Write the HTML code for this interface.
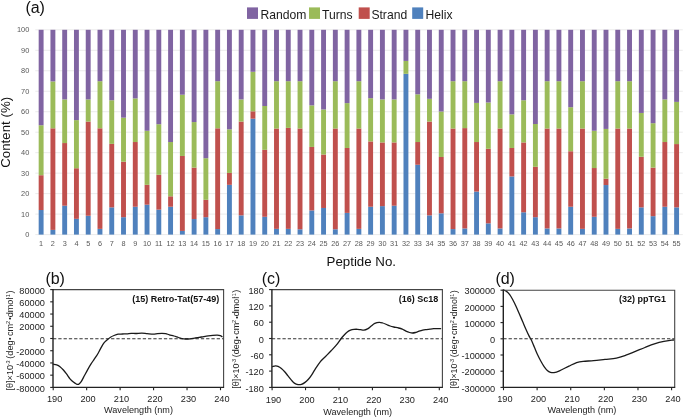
<!DOCTYPE html><html><head><meta charset="utf-8"><style>
html,body{margin:0;padding:0;background:#fff;}
svg{display:block;will-change:transform;font-family:"Liberation Sans",sans-serif;}
</style></head><body>
<svg width="685" height="419" viewBox="0 0 685 419">
<rect width="685" height="419" fill="#fff"/>
<text x="25.4" y="13.2" font-size="16" fill="#111">(a)</text>
<rect x="247" y="7.4" width="11" height="11.5" fill="#8064A2"/>
<text x="260.6" y="18.8" font-size="12.15" fill="#1a1a1a">Random</text>
<rect x="309" y="7.4" width="11" height="11.5" fill="#9BBB59"/>
<text x="322" y="18.8" font-size="12.15" fill="#1a1a1a">Turns</text>
<rect x="358.7" y="7.4" width="11" height="11.5" fill="#C0504D"/>
<text x="371.4" y="18.8" font-size="12.15" fill="#1a1a1a">Strand</text>
<rect x="412.2" y="7.4" width="11" height="11.5" fill="#4F81BD"/>
<text x="425.6" y="18.8" font-size="12.15" fill="#1a1a1a">Helix</text>
<line x1="35.3" x2="682.8" y1="234.60" y2="234.60" stroke="#ebebeb" stroke-width="1"/>
<line x1="35.3" x2="682.8" y1="214.12" y2="214.12" stroke="#ebebeb" stroke-width="1"/>
<line x1="35.3" x2="682.8" y1="193.64" y2="193.64" stroke="#ebebeb" stroke-width="1"/>
<line x1="35.3" x2="682.8" y1="173.16" y2="173.16" stroke="#ebebeb" stroke-width="1"/>
<line x1="35.3" x2="682.8" y1="152.68" y2="152.68" stroke="#ebebeb" stroke-width="1"/>
<line x1="35.3" x2="682.8" y1="132.20" y2="132.20" stroke="#ebebeb" stroke-width="1"/>
<line x1="35.3" x2="682.8" y1="111.72" y2="111.72" stroke="#ebebeb" stroke-width="1"/>
<line x1="35.3" x2="682.8" y1="91.24" y2="91.24" stroke="#ebebeb" stroke-width="1"/>
<line x1="35.3" x2="682.8" y1="70.76" y2="70.76" stroke="#ebebeb" stroke-width="1"/>
<line x1="35.3" x2="682.8" y1="50.28" y2="50.28" stroke="#ebebeb" stroke-width="1"/>
<line x1="35.3" x2="682.8" y1="29.80" y2="29.80" stroke="#ebebeb" stroke-width="1"/>
<text x="29.3" y="237.25" font-size="7.4" fill="#595959" text-anchor="end">0</text>
<text x="29.3" y="216.77" font-size="7.4" fill="#595959" text-anchor="end">10</text>
<text x="29.3" y="196.29" font-size="7.4" fill="#595959" text-anchor="end">20</text>
<text x="29.3" y="175.81" font-size="7.4" fill="#595959" text-anchor="end">30</text>
<text x="29.3" y="155.33" font-size="7.4" fill="#595959" text-anchor="end">40</text>
<text x="29.3" y="134.85" font-size="7.4" fill="#595959" text-anchor="end">50</text>
<text x="29.3" y="114.37" font-size="7.4" fill="#595959" text-anchor="end">60</text>
<text x="29.3" y="93.89" font-size="7.4" fill="#595959" text-anchor="end">70</text>
<text x="29.3" y="73.41" font-size="7.4" fill="#595959" text-anchor="end">80</text>
<text x="29.3" y="52.93" font-size="7.4" fill="#595959" text-anchor="end">90</text>
<text x="29.3" y="32.45" font-size="7.4" fill="#595959" text-anchor="end">100</text>
<rect x="38.68" y="210.02" width="4.9" height="24.58" fill="#4F81BD"/>
<rect x="38.68" y="175.21" width="4.9" height="34.82" fill="#C0504D"/>
<rect x="38.68" y="125.24" width="4.9" height="49.97" fill="#9BBB59"/>
<rect x="38.68" y="29.80" width="4.9" height="95.44" fill="#8064A2"/>
<text x="41.13" y="245.8" font-size="7.3" fill="#595959" text-anchor="middle">1</text>
<rect x="50.45" y="229.89" width="4.9" height="4.71" fill="#4F81BD"/>
<rect x="50.45" y="128.31" width="4.9" height="101.58" fill="#C0504D"/>
<rect x="50.45" y="81.41" width="4.9" height="46.90" fill="#9BBB59"/>
<rect x="50.45" y="29.80" width="4.9" height="51.61" fill="#8064A2"/>
<text x="52.90" y="245.8" font-size="7.3" fill="#595959" text-anchor="middle">2</text>
<rect x="62.22" y="205.72" width="4.9" height="28.88" fill="#4F81BD"/>
<rect x="62.22" y="143.05" width="4.9" height="62.67" fill="#C0504D"/>
<rect x="62.22" y="99.43" width="4.9" height="43.62" fill="#9BBB59"/>
<rect x="62.22" y="29.80" width="4.9" height="69.63" fill="#8064A2"/>
<text x="64.67" y="245.8" font-size="7.3" fill="#595959" text-anchor="middle">3</text>
<rect x="73.98" y="218.83" width="4.9" height="15.77" fill="#4F81BD"/>
<rect x="73.98" y="168.24" width="4.9" height="50.59" fill="#C0504D"/>
<rect x="73.98" y="120.12" width="4.9" height="48.13" fill="#9BBB59"/>
<rect x="73.98" y="29.80" width="4.9" height="90.32" fill="#8064A2"/>
<text x="76.43" y="245.8" font-size="7.3" fill="#595959" text-anchor="middle">4</text>
<rect x="85.75" y="215.76" width="4.9" height="18.84" fill="#4F81BD"/>
<rect x="85.75" y="121.55" width="4.9" height="94.21" fill="#C0504D"/>
<rect x="85.75" y="99.43" width="4.9" height="22.12" fill="#9BBB59"/>
<rect x="85.75" y="29.80" width="4.9" height="69.63" fill="#8064A2"/>
<text x="88.20" y="245.8" font-size="7.3" fill="#595959" text-anchor="middle">5</text>
<rect x="97.52" y="228.87" width="4.9" height="5.73" fill="#4F81BD"/>
<rect x="97.52" y="128.31" width="4.9" height="100.56" fill="#C0504D"/>
<rect x="97.52" y="81.20" width="4.9" height="47.10" fill="#9BBB59"/>
<rect x="97.52" y="29.80" width="4.9" height="51.40" fill="#8064A2"/>
<text x="99.97" y="245.8" font-size="7.3" fill="#595959" text-anchor="middle">6</text>
<rect x="109.29" y="207.36" width="4.9" height="27.24" fill="#4F81BD"/>
<rect x="109.29" y="143.87" width="4.9" height="63.49" fill="#C0504D"/>
<rect x="109.29" y="100.25" width="4.9" height="43.62" fill="#9BBB59"/>
<rect x="109.29" y="29.80" width="4.9" height="70.45" fill="#8064A2"/>
<text x="111.74" y="245.8" font-size="7.3" fill="#595959" text-anchor="middle">7</text>
<rect x="121.06" y="217.19" width="4.9" height="17.41" fill="#4F81BD"/>
<rect x="121.06" y="161.69" width="4.9" height="55.50" fill="#C0504D"/>
<rect x="121.06" y="117.66" width="4.9" height="44.03" fill="#9BBB59"/>
<rect x="121.06" y="29.80" width="4.9" height="87.86" fill="#8064A2"/>
<text x="123.51" y="245.8" font-size="7.3" fill="#595959" text-anchor="middle">8</text>
<rect x="132.82" y="206.75" width="4.9" height="27.85" fill="#4F81BD"/>
<rect x="132.82" y="142.03" width="4.9" height="64.72" fill="#C0504D"/>
<rect x="132.82" y="98.41" width="4.9" height="43.62" fill="#9BBB59"/>
<rect x="132.82" y="29.80" width="4.9" height="68.61" fill="#8064A2"/>
<text x="135.27" y="245.8" font-size="7.3" fill="#595959" text-anchor="middle">9</text>
<rect x="144.59" y="204.70" width="4.9" height="29.90" fill="#4F81BD"/>
<rect x="144.59" y="184.83" width="4.9" height="19.87" fill="#C0504D"/>
<rect x="144.59" y="130.77" width="4.9" height="54.07" fill="#9BBB59"/>
<rect x="144.59" y="29.80" width="4.9" height="100.97" fill="#8064A2"/>
<text x="147.04" y="245.8" font-size="7.3" fill="#595959" text-anchor="middle">10</text>
<rect x="156.36" y="209.61" width="4.9" height="24.99" fill="#4F81BD"/>
<rect x="156.36" y="174.80" width="4.9" height="34.82" fill="#C0504D"/>
<rect x="156.36" y="124.21" width="4.9" height="50.59" fill="#9BBB59"/>
<rect x="156.36" y="29.80" width="4.9" height="94.41" fill="#8064A2"/>
<text x="158.81" y="245.8" font-size="7.3" fill="#595959" text-anchor="middle">11</text>
<rect x="168.13" y="206.75" width="4.9" height="27.85" fill="#4F81BD"/>
<rect x="168.13" y="196.30" width="4.9" height="10.44" fill="#C0504D"/>
<rect x="168.13" y="142.03" width="4.9" height="54.27" fill="#9BBB59"/>
<rect x="168.13" y="29.80" width="4.9" height="112.23" fill="#8064A2"/>
<text x="170.58" y="245.8" font-size="7.3" fill="#595959" text-anchor="middle">12</text>
<rect x="179.90" y="230.91" width="4.9" height="3.69" fill="#4F81BD"/>
<rect x="179.90" y="155.96" width="4.9" height="74.96" fill="#C0504D"/>
<rect x="179.90" y="94.72" width="4.9" height="61.24" fill="#9BBB59"/>
<rect x="179.90" y="29.80" width="4.9" height="64.92" fill="#8064A2"/>
<text x="182.35" y="245.8" font-size="7.3" fill="#595959" text-anchor="middle">13</text>
<rect x="191.66" y="219.04" width="4.9" height="15.56" fill="#4F81BD"/>
<rect x="191.66" y="167.63" width="4.9" height="51.40" fill="#C0504D"/>
<rect x="191.66" y="122.06" width="4.9" height="45.57" fill="#9BBB59"/>
<rect x="191.66" y="29.80" width="4.9" height="92.26" fill="#8064A2"/>
<text x="194.11" y="245.8" font-size="7.3" fill="#595959" text-anchor="middle">14</text>
<rect x="203.43" y="217.19" width="4.9" height="17.41" fill="#4F81BD"/>
<rect x="203.43" y="199.78" width="4.9" height="17.41" fill="#C0504D"/>
<rect x="203.43" y="158.21" width="4.9" height="41.57" fill="#9BBB59"/>
<rect x="203.43" y="29.80" width="4.9" height="128.41" fill="#8064A2"/>
<text x="205.88" y="245.8" font-size="7.3" fill="#595959" text-anchor="middle">15</text>
<rect x="215.20" y="229.07" width="4.9" height="5.53" fill="#4F81BD"/>
<rect x="215.20" y="128.31" width="4.9" height="100.76" fill="#C0504D"/>
<rect x="215.20" y="81.20" width="4.9" height="47.10" fill="#9BBB59"/>
<rect x="215.20" y="29.80" width="4.9" height="51.40" fill="#8064A2"/>
<text x="217.65" y="245.8" font-size="7.3" fill="#595959" text-anchor="middle">16</text>
<rect x="226.97" y="184.83" width="4.9" height="49.77" fill="#4F81BD"/>
<rect x="226.97" y="172.96" width="4.9" height="11.88" fill="#C0504D"/>
<rect x="226.97" y="129.33" width="4.9" height="43.62" fill="#9BBB59"/>
<rect x="226.97" y="29.80" width="4.9" height="99.53" fill="#8064A2"/>
<text x="229.42" y="245.8" font-size="7.3" fill="#595959" text-anchor="middle">17</text>
<rect x="238.74" y="215.35" width="4.9" height="19.25" fill="#4F81BD"/>
<rect x="238.74" y="121.55" width="4.9" height="93.80" fill="#C0504D"/>
<rect x="238.74" y="99.43" width="4.9" height="22.12" fill="#9BBB59"/>
<rect x="238.74" y="29.80" width="4.9" height="69.63" fill="#8064A2"/>
<text x="241.19" y="245.8" font-size="7.3" fill="#595959" text-anchor="middle">18</text>
<rect x="250.50" y="118.68" width="4.9" height="115.92" fill="#4F81BD"/>
<rect x="250.50" y="111.31" width="4.9" height="7.37" fill="#C0504D"/>
<rect x="250.50" y="71.78" width="4.9" height="39.53" fill="#9BBB59"/>
<rect x="250.50" y="29.80" width="4.9" height="41.98" fill="#8064A2"/>
<text x="252.95" y="245.8" font-size="7.3" fill="#595959" text-anchor="middle">19</text>
<rect x="262.27" y="216.78" width="4.9" height="17.82" fill="#4F81BD"/>
<rect x="262.27" y="149.81" width="4.9" height="66.97" fill="#C0504D"/>
<rect x="262.27" y="105.99" width="4.9" height="43.83" fill="#9BBB59"/>
<rect x="262.27" y="29.80" width="4.9" height="76.19" fill="#8064A2"/>
<text x="264.72" y="245.8" font-size="7.3" fill="#595959" text-anchor="middle">20</text>
<rect x="274.04" y="228.87" width="4.9" height="5.73" fill="#4F81BD"/>
<rect x="274.04" y="128.51" width="4.9" height="100.35" fill="#C0504D"/>
<rect x="274.04" y="81.20" width="4.9" height="47.31" fill="#9BBB59"/>
<rect x="274.04" y="29.80" width="4.9" height="51.40" fill="#8064A2"/>
<text x="276.49" y="245.8" font-size="7.3" fill="#595959" text-anchor="middle">21</text>
<rect x="285.81" y="228.87" width="4.9" height="5.73" fill="#4F81BD"/>
<rect x="285.81" y="127.90" width="4.9" height="100.97" fill="#C0504D"/>
<rect x="285.81" y="81.20" width="4.9" height="46.69" fill="#9BBB59"/>
<rect x="285.81" y="29.80" width="4.9" height="51.40" fill="#8064A2"/>
<text x="288.26" y="245.8" font-size="7.3" fill="#595959" text-anchor="middle">22</text>
<rect x="297.58" y="229.28" width="4.9" height="5.32" fill="#4F81BD"/>
<rect x="297.58" y="128.51" width="4.9" height="100.76" fill="#C0504D"/>
<rect x="297.58" y="81.20" width="4.9" height="47.31" fill="#9BBB59"/>
<rect x="297.58" y="29.80" width="4.9" height="51.40" fill="#8064A2"/>
<text x="300.03" y="245.8" font-size="7.3" fill="#595959" text-anchor="middle">23</text>
<rect x="309.34" y="210.43" width="4.9" height="24.17" fill="#4F81BD"/>
<rect x="309.34" y="146.95" width="4.9" height="63.49" fill="#C0504D"/>
<rect x="309.34" y="105.37" width="4.9" height="41.57" fill="#9BBB59"/>
<rect x="309.34" y="29.80" width="4.9" height="75.57" fill="#8064A2"/>
<text x="311.79" y="245.8" font-size="7.3" fill="#595959" text-anchor="middle">24</text>
<rect x="321.11" y="207.98" width="4.9" height="26.62" fill="#4F81BD"/>
<rect x="321.11" y="154.52" width="4.9" height="53.45" fill="#C0504D"/>
<rect x="321.11" y="109.47" width="4.9" height="45.06" fill="#9BBB59"/>
<rect x="321.11" y="29.80" width="4.9" height="79.67" fill="#8064A2"/>
<text x="323.56" y="245.8" font-size="7.3" fill="#595959" text-anchor="middle">25</text>
<rect x="332.88" y="229.28" width="4.9" height="5.32" fill="#4F81BD"/>
<rect x="332.88" y="128.51" width="4.9" height="100.76" fill="#C0504D"/>
<rect x="332.88" y="81.20" width="4.9" height="47.31" fill="#9BBB59"/>
<rect x="332.88" y="29.80" width="4.9" height="51.40" fill="#8064A2"/>
<text x="335.33" y="245.8" font-size="7.3" fill="#595959" text-anchor="middle">26</text>
<rect x="344.65" y="212.89" width="4.9" height="21.71" fill="#4F81BD"/>
<rect x="344.65" y="147.97" width="4.9" height="64.92" fill="#C0504D"/>
<rect x="344.65" y="103.12" width="4.9" height="44.85" fill="#9BBB59"/>
<rect x="344.65" y="29.80" width="4.9" height="73.32" fill="#8064A2"/>
<text x="347.10" y="245.8" font-size="7.3" fill="#595959" text-anchor="middle">27</text>
<rect x="356.42" y="228.87" width="4.9" height="5.73" fill="#4F81BD"/>
<rect x="356.42" y="128.51" width="4.9" height="100.35" fill="#C0504D"/>
<rect x="356.42" y="81.20" width="4.9" height="47.31" fill="#9BBB59"/>
<rect x="356.42" y="29.80" width="4.9" height="51.40" fill="#8064A2"/>
<text x="358.87" y="245.8" font-size="7.3" fill="#595959" text-anchor="middle">28</text>
<rect x="368.18" y="206.75" width="4.9" height="27.85" fill="#4F81BD"/>
<rect x="368.18" y="141.42" width="4.9" height="65.33" fill="#C0504D"/>
<rect x="368.18" y="98.20" width="4.9" height="43.21" fill="#9BBB59"/>
<rect x="368.18" y="29.80" width="4.9" height="68.40" fill="#8064A2"/>
<text x="370.63" y="245.8" font-size="7.3" fill="#595959" text-anchor="middle">29</text>
<rect x="379.95" y="206.13" width="4.9" height="28.47" fill="#4F81BD"/>
<rect x="379.95" y="142.44" width="4.9" height="63.69" fill="#C0504D"/>
<rect x="379.95" y="99.43" width="4.9" height="43.01" fill="#9BBB59"/>
<rect x="379.95" y="29.80" width="4.9" height="69.63" fill="#8064A2"/>
<text x="382.40" y="245.8" font-size="7.3" fill="#595959" text-anchor="middle">30</text>
<rect x="391.72" y="205.72" width="4.9" height="28.88" fill="#4F81BD"/>
<rect x="391.72" y="142.44" width="4.9" height="63.28" fill="#C0504D"/>
<rect x="391.72" y="99.43" width="4.9" height="43.01" fill="#9BBB59"/>
<rect x="391.72" y="29.80" width="4.9" height="69.63" fill="#8064A2"/>
<text x="394.17" y="245.8" font-size="7.3" fill="#595959" text-anchor="middle">31</text>
<rect x="403.49" y="73.83" width="4.9" height="160.77" fill="#4F81BD"/>
<rect x="403.49" y="60.93" width="4.9" height="12.90" fill="#9BBB59"/>
<rect x="403.49" y="29.80" width="4.9" height="31.13" fill="#8064A2"/>
<text x="405.94" y="245.8" font-size="7.3" fill="#595959" text-anchor="middle">32</text>
<rect x="415.26" y="164.76" width="4.9" height="69.84" fill="#4F81BD"/>
<rect x="415.26" y="142.03" width="4.9" height="22.73" fill="#C0504D"/>
<rect x="415.26" y="94.31" width="4.9" height="47.72" fill="#9BBB59"/>
<rect x="415.26" y="29.80" width="4.9" height="64.51" fill="#8064A2"/>
<text x="417.71" y="245.8" font-size="7.3" fill="#595959" text-anchor="middle">33</text>
<rect x="427.02" y="215.35" width="4.9" height="19.25" fill="#4F81BD"/>
<rect x="427.02" y="121.55" width="4.9" height="93.80" fill="#C0504D"/>
<rect x="427.02" y="98.82" width="4.9" height="22.73" fill="#9BBB59"/>
<rect x="427.02" y="29.80" width="4.9" height="69.02" fill="#8064A2"/>
<text x="429.47" y="245.8" font-size="7.3" fill="#595959" text-anchor="middle">34</text>
<rect x="438.79" y="213.30" width="4.9" height="21.30" fill="#4F81BD"/>
<rect x="438.79" y="156.98" width="4.9" height="56.32" fill="#C0504D"/>
<rect x="438.79" y="111.52" width="4.9" height="45.47" fill="#9BBB59"/>
<rect x="438.79" y="29.80" width="4.9" height="81.72" fill="#8064A2"/>
<text x="441.24" y="245.8" font-size="7.3" fill="#595959" text-anchor="middle">35</text>
<rect x="450.56" y="229.07" width="4.9" height="5.53" fill="#4F81BD"/>
<rect x="450.56" y="128.51" width="4.9" height="100.56" fill="#C0504D"/>
<rect x="450.56" y="81.20" width="4.9" height="47.31" fill="#9BBB59"/>
<rect x="450.56" y="29.80" width="4.9" height="51.40" fill="#8064A2"/>
<text x="453.01" y="245.8" font-size="7.3" fill="#595959" text-anchor="middle">36</text>
<rect x="462.33" y="228.46" width="4.9" height="6.14" fill="#4F81BD"/>
<rect x="462.33" y="128.10" width="4.9" height="100.35" fill="#C0504D"/>
<rect x="462.33" y="81.20" width="4.9" height="46.90" fill="#9BBB59"/>
<rect x="462.33" y="29.80" width="4.9" height="51.40" fill="#8064A2"/>
<text x="464.78" y="245.8" font-size="7.3" fill="#595959" text-anchor="middle">37</text>
<rect x="474.10" y="191.59" width="4.9" height="43.01" fill="#4F81BD"/>
<rect x="474.10" y="142.03" width="4.9" height="49.56" fill="#C0504D"/>
<rect x="474.10" y="102.91" width="4.9" height="39.12" fill="#9BBB59"/>
<rect x="474.10" y="29.80" width="4.9" height="73.11" fill="#8064A2"/>
<text x="476.55" y="245.8" font-size="7.3" fill="#595959" text-anchor="middle">38</text>
<rect x="485.86" y="223.34" width="4.9" height="11.26" fill="#4F81BD"/>
<rect x="485.86" y="148.79" width="4.9" height="74.55" fill="#C0504D"/>
<rect x="485.86" y="102.50" width="4.9" height="46.28" fill="#9BBB59"/>
<rect x="485.86" y="29.80" width="4.9" height="72.70" fill="#8064A2"/>
<text x="488.31" y="245.8" font-size="7.3" fill="#595959" text-anchor="middle">39</text>
<rect x="497.63" y="228.46" width="4.9" height="6.14" fill="#4F81BD"/>
<rect x="497.63" y="128.51" width="4.9" height="99.94" fill="#C0504D"/>
<rect x="497.63" y="81.20" width="4.9" height="47.31" fill="#9BBB59"/>
<rect x="497.63" y="29.80" width="4.9" height="51.40" fill="#8064A2"/>
<text x="500.08" y="245.8" font-size="7.3" fill="#595959" text-anchor="middle">40</text>
<rect x="509.40" y="176.44" width="4.9" height="58.16" fill="#4F81BD"/>
<rect x="509.40" y="147.97" width="4.9" height="28.47" fill="#C0504D"/>
<rect x="509.40" y="114.38" width="4.9" height="33.59" fill="#9BBB59"/>
<rect x="509.40" y="29.80" width="4.9" height="84.58" fill="#8064A2"/>
<text x="511.85" y="245.8" font-size="7.3" fill="#595959" text-anchor="middle">41</text>
<rect x="521.17" y="212.28" width="4.9" height="22.32" fill="#4F81BD"/>
<rect x="521.17" y="142.44" width="4.9" height="69.84" fill="#C0504D"/>
<rect x="521.17" y="100.25" width="4.9" height="42.19" fill="#9BBB59"/>
<rect x="521.17" y="29.80" width="4.9" height="70.45" fill="#8064A2"/>
<text x="523.62" y="245.8" font-size="7.3" fill="#595959" text-anchor="middle">42</text>
<rect x="532.94" y="217.19" width="4.9" height="17.41" fill="#4F81BD"/>
<rect x="532.94" y="166.81" width="4.9" height="50.38" fill="#C0504D"/>
<rect x="532.94" y="124.01" width="4.9" height="42.80" fill="#9BBB59"/>
<rect x="532.94" y="29.80" width="4.9" height="94.21" fill="#8064A2"/>
<text x="535.39" y="245.8" font-size="7.3" fill="#595959" text-anchor="middle">43</text>
<rect x="544.70" y="228.46" width="4.9" height="6.14" fill="#4F81BD"/>
<rect x="544.70" y="128.51" width="4.9" height="99.94" fill="#C0504D"/>
<rect x="544.70" y="81.20" width="4.9" height="47.31" fill="#9BBB59"/>
<rect x="544.70" y="29.80" width="4.9" height="51.40" fill="#8064A2"/>
<text x="547.15" y="245.8" font-size="7.3" fill="#595959" text-anchor="middle">44</text>
<rect x="556.47" y="228.46" width="4.9" height="6.14" fill="#4F81BD"/>
<rect x="556.47" y="128.51" width="4.9" height="99.94" fill="#C0504D"/>
<rect x="556.47" y="81.20" width="4.9" height="47.31" fill="#9BBB59"/>
<rect x="556.47" y="29.80" width="4.9" height="51.40" fill="#8064A2"/>
<text x="558.92" y="245.8" font-size="7.3" fill="#595959" text-anchor="middle">45</text>
<rect x="568.24" y="206.75" width="4.9" height="27.85" fill="#4F81BD"/>
<rect x="568.24" y="151.25" width="4.9" height="55.50" fill="#C0504D"/>
<rect x="568.24" y="107.21" width="4.9" height="44.03" fill="#9BBB59"/>
<rect x="568.24" y="29.80" width="4.9" height="77.41" fill="#8064A2"/>
<text x="570.69" y="245.8" font-size="7.3" fill="#595959" text-anchor="middle">46</text>
<rect x="580.01" y="228.87" width="4.9" height="5.73" fill="#4F81BD"/>
<rect x="580.01" y="128.51" width="4.9" height="100.35" fill="#C0504D"/>
<rect x="580.01" y="81.20" width="4.9" height="47.31" fill="#9BBB59"/>
<rect x="580.01" y="29.80" width="4.9" height="51.40" fill="#8064A2"/>
<text x="582.46" y="245.8" font-size="7.3" fill="#595959" text-anchor="middle">47</text>
<rect x="591.78" y="216.78" width="4.9" height="17.82" fill="#4F81BD"/>
<rect x="591.78" y="168.04" width="4.9" height="48.74" fill="#C0504D"/>
<rect x="591.78" y="130.77" width="4.9" height="37.27" fill="#9BBB59"/>
<rect x="591.78" y="29.80" width="4.9" height="100.97" fill="#8064A2"/>
<text x="594.23" y="245.8" font-size="7.3" fill="#595959" text-anchor="middle">48</text>
<rect x="603.54" y="185.04" width="4.9" height="49.56" fill="#4F81BD"/>
<rect x="603.54" y="178.69" width="4.9" height="6.35" fill="#C0504D"/>
<rect x="603.54" y="128.92" width="4.9" height="49.77" fill="#9BBB59"/>
<rect x="603.54" y="29.80" width="4.9" height="99.12" fill="#8064A2"/>
<text x="605.99" y="245.8" font-size="7.3" fill="#595959" text-anchor="middle">49</text>
<rect x="615.31" y="228.87" width="4.9" height="5.73" fill="#4F81BD"/>
<rect x="615.31" y="128.51" width="4.9" height="100.35" fill="#C0504D"/>
<rect x="615.31" y="81.20" width="4.9" height="47.31" fill="#9BBB59"/>
<rect x="615.31" y="29.80" width="4.9" height="51.40" fill="#8064A2"/>
<text x="617.76" y="245.8" font-size="7.3" fill="#595959" text-anchor="middle">50</text>
<rect x="627.08" y="228.46" width="4.9" height="6.14" fill="#4F81BD"/>
<rect x="627.08" y="128.51" width="4.9" height="99.94" fill="#C0504D"/>
<rect x="627.08" y="81.20" width="4.9" height="47.31" fill="#9BBB59"/>
<rect x="627.08" y="29.80" width="4.9" height="51.40" fill="#8064A2"/>
<text x="629.53" y="245.8" font-size="7.3" fill="#595959" text-anchor="middle">51</text>
<rect x="638.85" y="207.36" width="4.9" height="27.24" fill="#4F81BD"/>
<rect x="638.85" y="156.78" width="4.9" height="50.59" fill="#C0504D"/>
<rect x="638.85" y="112.95" width="4.9" height="43.83" fill="#9BBB59"/>
<rect x="638.85" y="29.80" width="4.9" height="83.15" fill="#8064A2"/>
<text x="641.30" y="245.8" font-size="7.3" fill="#595959" text-anchor="middle">52</text>
<rect x="650.62" y="216.17" width="4.9" height="18.43" fill="#4F81BD"/>
<rect x="650.62" y="167.63" width="4.9" height="48.54" fill="#C0504D"/>
<rect x="650.62" y="123.19" width="4.9" height="44.44" fill="#9BBB59"/>
<rect x="650.62" y="29.80" width="4.9" height="93.39" fill="#8064A2"/>
<text x="653.07" y="245.8" font-size="7.3" fill="#595959" text-anchor="middle">53</text>
<rect x="662.38" y="206.75" width="4.9" height="27.85" fill="#4F81BD"/>
<rect x="662.38" y="142.03" width="4.9" height="64.72" fill="#C0504D"/>
<rect x="662.38" y="99.43" width="4.9" height="42.60" fill="#9BBB59"/>
<rect x="662.38" y="29.80" width="4.9" height="69.63" fill="#8064A2"/>
<text x="664.83" y="245.8" font-size="7.3" fill="#595959" text-anchor="middle">54</text>
<rect x="674.15" y="207.36" width="4.9" height="27.24" fill="#4F81BD"/>
<rect x="674.15" y="144.08" width="4.9" height="63.28" fill="#C0504D"/>
<rect x="674.15" y="101.89" width="4.9" height="42.19" fill="#9BBB59"/>
<rect x="674.15" y="29.80" width="4.9" height="72.09" fill="#8064A2"/>
<text x="676.60" y="245.8" font-size="7.3" fill="#595959" text-anchor="middle">55</text>
<text transform="translate(10.3,132.3) rotate(-90)" font-size="13.3" fill="#111" text-anchor="middle">Content (%)</text>
<text x="361.3" y="266" font-size="13.3" fill="#111" text-anchor="middle">Peptide No.</text>
<text x="45.4" y="283.6" font-size="16" fill="#111">(b)</text>
<line x1="50.2" x2="53.0" y1="289.60" y2="289.60" stroke="#222" stroke-width="1.1"/>
<text x="44.9" y="293.80" font-size="9.2" fill="#222" text-anchor="end">80000</text>
<line x1="50.2" x2="53.0" y1="301.83" y2="301.83" stroke="#222" stroke-width="1.1"/>
<text x="44.9" y="306.03" font-size="9.2" fill="#222" text-anchor="end">60000</text>
<line x1="50.2" x2="53.0" y1="314.05" y2="314.05" stroke="#222" stroke-width="1.1"/>
<text x="44.9" y="318.25" font-size="9.2" fill="#222" text-anchor="end">40000</text>
<line x1="50.2" x2="53.0" y1="326.27" y2="326.27" stroke="#222" stroke-width="1.1"/>
<text x="44.9" y="330.47" font-size="9.2" fill="#222" text-anchor="end">20000</text>
<line x1="50.2" x2="53.0" y1="338.50" y2="338.50" stroke="#222" stroke-width="1.1"/>
<text x="44.9" y="342.70" font-size="9.2" fill="#222" text-anchor="end">0</text>
<line x1="50.2" x2="53.0" y1="350.73" y2="350.73" stroke="#222" stroke-width="1.1"/>
<text x="44.9" y="354.93" font-size="9.2" fill="#222" text-anchor="end">-20000</text>
<line x1="50.2" x2="53.0" y1="362.95" y2="362.95" stroke="#222" stroke-width="1.1"/>
<text x="44.9" y="367.15" font-size="9.2" fill="#222" text-anchor="end">-40000</text>
<line x1="50.2" x2="53.0" y1="375.17" y2="375.17" stroke="#222" stroke-width="1.1"/>
<text x="44.9" y="379.37" font-size="9.2" fill="#222" text-anchor="end">-60000</text>
<line x1="50.2" x2="53.0" y1="387.40" y2="387.40" stroke="#222" stroke-width="1.1"/>
<text x="44.9" y="391.60" font-size="9.2" fill="#222" text-anchor="end">-80000</text>
<line x1="53.20" x2="53.20" y1="387.4" y2="390.2" stroke="#222" stroke-width="1.1"/>
<text x="54.60" y="402.20" font-size="9.2" fill="#222" text-anchor="middle">190</text>
<line x1="86.66" x2="86.66" y1="387.4" y2="390.2" stroke="#222" stroke-width="1.1"/>
<text x="88.06" y="402.20" font-size="9.2" fill="#222" text-anchor="middle">200</text>
<line x1="120.12" x2="120.12" y1="387.4" y2="390.2" stroke="#222" stroke-width="1.1"/>
<text x="121.52" y="402.20" font-size="9.2" fill="#222" text-anchor="middle">210</text>
<line x1="153.58" x2="153.58" y1="387.4" y2="390.2" stroke="#222" stroke-width="1.1"/>
<text x="154.98" y="402.20" font-size="9.2" fill="#222" text-anchor="middle">220</text>
<line x1="187.04" x2="187.04" y1="387.4" y2="390.2" stroke="#222" stroke-width="1.1"/>
<text x="188.44" y="402.20" font-size="9.2" fill="#222" text-anchor="middle">230</text>
<line x1="220.50" x2="220.50" y1="387.4" y2="390.2" stroke="#222" stroke-width="1.1"/>
<text x="221.90" y="402.20" font-size="9.2" fill="#222" text-anchor="middle">240</text>
<line x1="53.0" x2="223.6" y1="338.7" y2="338.7" stroke="#333" stroke-width="1.1" stroke-dasharray="3.3,1.98"/>
<path d="M53.20,364.20 C53.78,364.32 55.57,364.48 56.70,364.90 C57.83,365.32 58.88,365.85 60.00,366.70 C61.12,367.55 62.28,368.75 63.40,370.00 C64.52,371.25 65.60,372.73 66.70,374.20 C67.80,375.67 68.88,377.48 70.00,378.80 C71.12,380.12 72.35,381.23 73.40,382.10 C74.45,382.97 75.43,383.63 76.30,384.00 C77.17,384.37 77.78,384.70 78.60,384.30 C79.42,383.90 80.22,383.07 81.20,381.60 C82.18,380.13 83.42,377.50 84.50,375.50 C85.58,373.50 86.63,371.48 87.70,369.60 C88.77,367.72 89.83,365.90 90.90,364.20 C91.97,362.50 93.02,361.02 94.10,359.40 C95.18,357.78 96.32,356.30 97.40,354.50 C98.48,352.70 99.53,350.48 100.60,348.60 C101.67,346.72 102.73,344.63 103.80,343.20 C104.87,341.77 105.88,341.00 107.00,340.00 C108.12,339.00 109.33,337.95 110.50,337.20 C111.67,336.45 112.73,336.00 114.00,335.50 C115.27,335.00 116.68,334.45 118.10,334.20 C119.52,333.95 121.03,334.07 122.50,334.00 C123.97,333.93 125.43,333.92 126.90,333.80 C128.37,333.68 129.85,333.35 131.30,333.30 C132.75,333.25 133.85,333.53 135.60,333.50 C137.35,333.47 139.90,333.08 141.80,333.10 C143.70,333.12 145.10,333.42 147.00,333.60 C148.90,333.78 151.45,334.20 153.20,334.20 C154.95,334.20 156.05,333.75 157.50,333.60 C158.95,333.45 160.53,333.30 161.90,333.30 C163.27,333.30 164.47,333.35 165.70,333.60 C166.93,333.85 167.93,334.40 169.30,334.80 C170.67,335.20 172.38,335.55 173.90,336.00 C175.42,336.45 177.05,337.07 178.40,337.50 C179.75,337.93 180.80,338.35 182.00,338.60 C183.20,338.85 184.25,338.97 185.60,339.00 C186.95,339.03 188.58,338.95 190.10,338.80 C191.62,338.65 193.18,338.33 194.70,338.10 C196.22,337.87 197.70,337.65 199.20,337.40 C200.70,337.15 202.20,336.85 203.70,336.60 C205.20,336.35 206.68,336.10 208.20,335.90 C209.72,335.70 211.28,335.52 212.80,335.40 C214.32,335.28 216.05,335.17 217.30,335.20 C218.55,335.23 219.52,335.37 220.30,335.60 C221.08,335.83 221.72,336.43 222.00,336.60" fill="none" stroke="#1a1a1a" stroke-width="1.3" stroke-linejoin="round" stroke-linecap="round"/>
<path d="M53.0,289.6 H223.6 V387.4" fill="none" stroke="#444" stroke-width="1.1"/>
<path d="M53.0,289.1 V387.4 H224.1" fill="none" stroke="#222" stroke-width="1.4"/>
<text x="219.2" y="302.4" font-size="9" font-weight="bold" fill="#111" text-anchor="end">(15) Retro-Tat(57-49)</text>
<text x="138.5" y="413.30" font-size="9.1" fill="#222" text-anchor="middle">Wavelength (nm)</text>
<text transform="translate(12.8,389.6) rotate(-90) scale(1.0)" fill="#222"><tspan x="-0.9" y="0" font-size="9.1">[θ]×10</tspan><tspan x="24.3" y="-2.9" font-size="5.6">-3</tspan><tspan x="30.9" y="0" font-size="9.1">(deg</tspan><tspan x="49.65" y="-0.75" font-size="7.2">•</tspan><tspan x="53.6" y="0" font-size="9.1">cm</tspan><tspan x="65.5" y="-2.9" font-size="5.6">2</tspan><tspan x="69.75" y="-0.75" font-size="7.2">•</tspan><tspan x="72.3" y="0" font-size="9.1">dmol</tspan><tspan x="90.5" y="-2.9" font-size="5.6">-1</tspan><tspan x="96.0" y="0" font-size="9.1">)</tspan></text>
<text x="261.7" y="283.6" font-size="16" fill="#111">(c)</text>
<line x1="269.09999999999997" x2="271.9" y1="289.60" y2="289.60" stroke="#222" stroke-width="1.1"/>
<text x="263.79999999999995" y="293.80" font-size="9.2" fill="#222" text-anchor="end">180</text>
<line x1="269.09999999999997" x2="271.9" y1="305.90" y2="305.90" stroke="#222" stroke-width="1.1"/>
<text x="263.79999999999995" y="310.10" font-size="9.2" fill="#222" text-anchor="end">120</text>
<line x1="269.09999999999997" x2="271.9" y1="322.20" y2="322.20" stroke="#222" stroke-width="1.1"/>
<text x="263.79999999999995" y="326.40" font-size="9.2" fill="#222" text-anchor="end">60</text>
<line x1="269.09999999999997" x2="271.9" y1="338.50" y2="338.50" stroke="#222" stroke-width="1.1"/>
<text x="263.79999999999995" y="342.70" font-size="9.2" fill="#222" text-anchor="end">0</text>
<line x1="269.09999999999997" x2="271.9" y1="354.80" y2="354.80" stroke="#222" stroke-width="1.1"/>
<text x="263.79999999999995" y="359.00" font-size="9.2" fill="#222" text-anchor="end">-60</text>
<line x1="269.09999999999997" x2="271.9" y1="371.10" y2="371.10" stroke="#222" stroke-width="1.1"/>
<text x="263.79999999999995" y="375.30" font-size="9.2" fill="#222" text-anchor="end">-120</text>
<line x1="269.09999999999997" x2="271.9" y1="387.40" y2="387.40" stroke="#222" stroke-width="1.1"/>
<text x="263.79999999999995" y="391.60" font-size="9.2" fill="#222" text-anchor="end">-180</text>
<line x1="272.10" x2="272.10" y1="387.4" y2="390.2" stroke="#222" stroke-width="1.1"/>
<text x="273.50" y="402.90" font-size="9.2" fill="#222" text-anchor="middle">190</text>
<line x1="305.54" x2="305.54" y1="387.4" y2="390.2" stroke="#222" stroke-width="1.1"/>
<text x="306.94" y="402.90" font-size="9.2" fill="#222" text-anchor="middle">200</text>
<line x1="338.98" x2="338.98" y1="387.4" y2="390.2" stroke="#222" stroke-width="1.1"/>
<text x="340.38" y="402.90" font-size="9.2" fill="#222" text-anchor="middle">210</text>
<line x1="372.42" x2="372.42" y1="387.4" y2="390.2" stroke="#222" stroke-width="1.1"/>
<text x="373.82" y="402.90" font-size="9.2" fill="#222" text-anchor="middle">220</text>
<line x1="405.86" x2="405.86" y1="387.4" y2="390.2" stroke="#222" stroke-width="1.1"/>
<text x="407.26" y="402.90" font-size="9.2" fill="#222" text-anchor="middle">230</text>
<line x1="439.30" x2="439.30" y1="387.4" y2="390.2" stroke="#222" stroke-width="1.1"/>
<text x="440.70" y="402.90" font-size="9.2" fill="#222" text-anchor="middle">240</text>
<line x1="271.9" x2="442.4" y1="338.7" y2="338.7" stroke="#333" stroke-width="1.1" stroke-dasharray="3.3,1.98"/>
<path d="M272.60,366.60 C273.08,366.48 274.60,365.95 275.50,365.90 C276.40,365.85 277.02,365.88 278.00,366.30 C278.98,366.72 280.28,367.50 281.40,368.40 C282.52,369.30 283.60,370.45 284.70,371.70 C285.80,372.95 286.88,374.50 288.00,375.90 C289.12,377.30 290.28,378.85 291.40,380.10 C292.52,381.35 293.58,382.65 294.70,383.40 C295.82,384.15 296.98,384.43 298.10,384.60 C299.22,384.77 300.30,384.73 301.40,384.40 C302.50,384.07 303.53,383.45 304.70,382.60 C305.87,381.75 307.23,380.60 308.40,379.30 C309.57,378.00 310.58,376.47 311.70,374.80 C312.82,373.13 313.65,371.50 315.10,369.30 C316.55,367.10 318.62,363.78 320.40,361.60 C322.18,359.42 324.02,358.00 325.80,356.20 C327.58,354.40 329.32,352.68 331.10,350.80 C332.88,348.92 334.88,346.87 336.50,344.90 C338.12,342.93 339.55,340.62 340.80,339.00 C342.05,337.38 342.92,336.37 344.00,335.20 C345.08,334.03 346.22,332.83 347.30,332.00 C348.38,331.17 349.38,330.63 350.50,330.20 C351.62,329.77 352.83,329.55 354.00,329.40 C355.17,329.25 356.42,329.25 357.50,329.30 C358.58,329.35 359.43,329.55 360.50,329.70 C361.57,329.85 362.73,330.33 363.90,330.20 C365.07,330.07 366.28,329.60 367.50,328.90 C368.72,328.20 369.98,326.92 371.20,326.00 C372.42,325.08 373.47,324.02 374.80,323.40 C376.13,322.78 377.87,322.37 379.20,322.30 C380.53,322.23 381.58,322.63 382.80,323.00 C384.02,323.37 385.28,324.00 386.50,324.50 C387.72,325.00 388.88,325.58 390.10,326.00 C391.32,326.42 392.38,326.67 393.80,327.00 C395.22,327.33 397.18,327.63 398.60,328.00 C400.02,328.37 401.08,328.68 402.30,329.20 C403.52,329.72 404.68,330.55 405.90,331.10 C407.12,331.65 408.50,332.18 409.60,332.50 C410.70,332.82 411.53,333.00 412.50,333.00 C413.47,333.00 414.30,332.80 415.40,332.50 C416.50,332.20 417.88,331.58 419.10,331.20 C420.32,330.82 421.48,330.47 422.70,330.20 C423.92,329.93 425.18,329.78 426.40,329.60 C427.62,329.42 428.78,329.25 430.00,329.10 C431.22,328.95 432.48,328.78 433.70,328.70 C434.92,328.62 436.15,328.60 437.30,328.60 C438.45,328.60 440.05,328.68 440.60,328.70" fill="none" stroke="#1a1a1a" stroke-width="1.3" stroke-linejoin="round" stroke-linecap="round"/>
<path d="M271.9,289.6 H442.4 V387.4" fill="none" stroke="#444" stroke-width="1.1"/>
<path d="M271.9,289.1 V387.4 H442.9" fill="none" stroke="#222" stroke-width="1.4"/>
<text x="438.2" y="302.4" font-size="9" font-weight="bold" fill="#111" text-anchor="end">(16) Sc18</text>
<text x="357.7" y="414.50" font-size="9.1" fill="#222" text-anchor="middle">Wavelength (nm)</text>
<text transform="translate(239.3,387.8) rotate(-90) scale(0.99)" fill="#222"><tspan x="-0.9" y="0" font-size="9.1">[θ]×10</tspan><tspan x="24.3" y="-2.9" font-size="5.6">-3</tspan><tspan x="30.9" y="0" font-size="9.1">(deg</tspan><tspan x="49.65" y="-0.75" font-size="7.2">•</tspan><tspan x="53.6" y="0" font-size="9.1">cm</tspan><tspan x="65.5" y="-2.9" font-size="5.6">2</tspan><tspan x="69.75" y="-0.75" font-size="7.2">•</tspan><tspan x="72.3" y="0" font-size="9.1">dmol</tspan><tspan x="90.5" y="-2.9" font-size="5.6">-1</tspan><tspan x="96.0" y="0" font-size="9.1">)</tspan></text>
<text x="495.4" y="283.6" font-size="16" fill="#111">(d)</text>
<line x1="500.5" x2="503.3" y1="290.20" y2="290.20" stroke="#222" stroke-width="1.1"/>
<text x="495.2" y="294.40" font-size="9.2" fill="#222" text-anchor="end">300000</text>
<line x1="500.5" x2="503.3" y1="306.40" y2="306.40" stroke="#222" stroke-width="1.1"/>
<text x="495.2" y="310.60" font-size="9.2" fill="#222" text-anchor="end">200000</text>
<line x1="500.5" x2="503.3" y1="322.60" y2="322.60" stroke="#222" stroke-width="1.1"/>
<text x="495.2" y="326.80" font-size="9.2" fill="#222" text-anchor="end">100000</text>
<line x1="500.5" x2="503.3" y1="338.80" y2="338.80" stroke="#222" stroke-width="1.1"/>
<text x="495.2" y="343.00" font-size="9.2" fill="#222" text-anchor="end">0</text>
<line x1="500.5" x2="503.3" y1="355.00" y2="355.00" stroke="#222" stroke-width="1.1"/>
<text x="495.2" y="359.20" font-size="9.2" fill="#222" text-anchor="end">-100000</text>
<line x1="500.5" x2="503.3" y1="371.20" y2="371.20" stroke="#222" stroke-width="1.1"/>
<text x="495.2" y="375.40" font-size="9.2" fill="#222" text-anchor="end">-200000</text>
<line x1="500.5" x2="503.3" y1="387.40" y2="387.40" stroke="#222" stroke-width="1.1"/>
<text x="495.2" y="391.60" font-size="9.2" fill="#222" text-anchor="end">-300000</text>
<line x1="503.50" x2="503.50" y1="387.4" y2="390.2" stroke="#222" stroke-width="1.1"/>
<text x="504.90" y="402.20" font-size="9.2" fill="#222" text-anchor="middle">190</text>
<line x1="537.12" x2="537.12" y1="387.4" y2="390.2" stroke="#222" stroke-width="1.1"/>
<text x="538.52" y="402.20" font-size="9.2" fill="#222" text-anchor="middle">200</text>
<line x1="570.74" x2="570.74" y1="387.4" y2="390.2" stroke="#222" stroke-width="1.1"/>
<text x="572.14" y="402.20" font-size="9.2" fill="#222" text-anchor="middle">210</text>
<line x1="604.36" x2="604.36" y1="387.4" y2="390.2" stroke="#222" stroke-width="1.1"/>
<text x="605.76" y="402.20" font-size="9.2" fill="#222" text-anchor="middle">220</text>
<line x1="637.98" x2="637.98" y1="387.4" y2="390.2" stroke="#222" stroke-width="1.1"/>
<text x="639.38" y="402.20" font-size="9.2" fill="#222" text-anchor="middle">230</text>
<line x1="671.60" x2="671.60" y1="387.4" y2="390.2" stroke="#222" stroke-width="1.1"/>
<text x="673.00" y="402.20" font-size="9.2" fill="#222" text-anchor="middle">240</text>
<line x1="503.3" x2="674.7" y1="338.7" y2="338.7" stroke="#333" stroke-width="1.1" stroke-dasharray="3.3,1.98"/>
<path d="M503.20,289.90 C503.75,290.15 505.42,290.62 506.50,291.40 C507.58,292.18 508.63,293.17 509.70,294.60 C510.77,296.03 511.83,298.03 512.90,300.00 C513.97,301.97 515.02,304.07 516.10,306.40 C517.18,308.73 518.32,311.48 519.40,314.00 C520.48,316.52 521.53,319.00 522.60,321.50 C523.67,324.00 524.73,326.60 525.80,329.00 C526.87,331.40 528.10,334.10 529.00,335.90 C529.90,337.70 530.30,337.90 531.20,339.80 C532.10,341.70 533.33,344.80 534.40,347.30 C535.47,349.80 536.52,352.47 537.60,354.80 C538.68,357.13 539.82,359.33 540.90,361.30 C541.98,363.27 543.03,365.07 544.10,366.60 C545.17,368.13 546.23,369.55 547.30,370.50 C548.37,371.45 549.38,371.95 550.50,372.30 C551.62,372.65 552.50,372.85 554.00,372.60 C555.50,372.35 557.00,371.88 559.50,370.80 C562.00,369.72 566.15,367.47 569.00,366.10 C571.85,364.73 574.23,363.40 576.60,362.60 C578.97,361.80 580.37,361.62 583.20,361.30 C586.03,360.98 589.97,361.02 593.60,360.70 C597.23,360.38 601.20,359.83 605.00,359.40 C608.80,358.97 612.92,358.80 616.40,358.10 C619.88,357.40 622.73,356.32 625.90,355.20 C629.07,354.08 632.23,352.68 635.40,351.40 C638.57,350.12 641.73,348.75 644.90,347.50 C648.07,346.25 651.23,344.92 654.40,343.90 C657.57,342.88 660.72,342.05 663.90,341.40 C667.08,340.75 671.90,340.23 673.50,340.00" fill="none" stroke="#1a1a1a" stroke-width="1.3" stroke-linejoin="round" stroke-linecap="round"/>
<path d="M503.3,290.2 H674.7 V387.4" fill="none" stroke="#444" stroke-width="1.1"/>
<path d="M503.3,289.7 V387.4 H675.2" fill="none" stroke="#222" stroke-width="1.4"/>
<text x="666.1" y="302.4" font-size="9" font-weight="bold" fill="#111" text-anchor="end">(32) ppTG1</text>
<text x="581.9" y="413.30" font-size="9.1" fill="#222" text-anchor="middle">Wavelength (nm)</text>
<text transform="translate(456.9,387.7) rotate(-90) scale(0.985)" fill="#222"><tspan x="-0.9" y="0" font-size="9.1">[θ]×10</tspan><tspan x="24.3" y="-2.9" font-size="5.6">-3</tspan><tspan x="30.9" y="0" font-size="9.1">(deg</tspan><tspan x="49.65" y="-0.75" font-size="7.2">•</tspan><tspan x="53.6" y="0" font-size="9.1">cm</tspan><tspan x="65.5" y="-2.9" font-size="5.6">2</tspan><tspan x="69.75" y="-0.75" font-size="7.2">•</tspan><tspan x="72.3" y="0" font-size="9.1">dmol</tspan><tspan x="90.5" y="-2.9" font-size="5.6">-1</tspan><tspan x="96.0" y="0" font-size="9.1">)</tspan></text>
</svg></body></html>
